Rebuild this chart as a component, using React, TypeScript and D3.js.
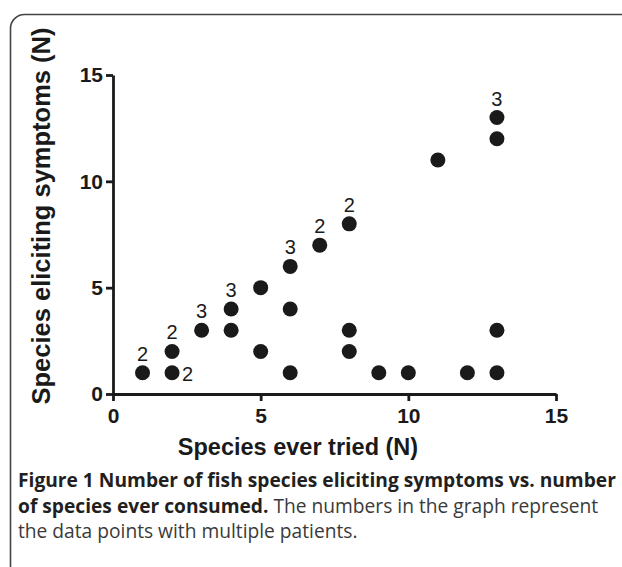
import React, { useEffect, useRef } from 'react';
import * as d3 from 'd3';

// species ever tried (x), species eliciting symptoms (y)
const triedValues = [1, 2, 2, 3, 4, 4, 5, 5, 6, 6, 6, 7, 8, 8, 8, 9, 10, 11, 12, 13, 13, 13, 13];
const symptomValues = [1, 1, 2, 3, 3, 4, 5, 2, 6, 4, 1, 7, 8, 3, 2, 1, 1, 11, 1, 13, 12, 3, 1];
// number of patients at a point ('' = one), and where its label sits
const patientCounts = ['2', '2', '2', '3', '', '3', '', '', '3', '', '', '2', '2', '', '', '', '', '', '', '3', '', '', ''];
const labelSides = ['top', 'right', 'top', 'top', '', 'top', '', '', 'top', '', '', 'top', 'top', '', '', '', '', '', '', 'top', '', '', ''];

const xTicks = [0, 5, 10, 15];
const yTicks = [0, 5, 10, 15];

const captionLines = [
  [{ t: 'Figure 1 Number of fish species eliciting symptoms vs. number', b: true }],
  [{ t: 'of species ever consumed.', b: true }, { t: ' The numbers in the graph represent', b: false }],
  [{ t: 'the data points with multiple patients.', b: false }],
];

const App = () => {
  const ref = useRef(null);

  useEffect(() => {
    document.body.style.margin = '0';
    const W = 622;
    const H = 567;
    const axisFont = '"Liberation Sans", Arial, sans-serif';
    const ink = '#1a1a1a';

    d3.select(ref.current).selectAll('*').remove();
    const svg = d3
      .select(ref.current)
      .append('svg')
      .attr('width', W)
      .attr('height', H)
      .style('display', 'block');

    svg.append('rect').attr('width', W).attr('height', H).attr('fill', '#fff');

    // figure frame (runs off the right and bottom edges)
    svg
      .append('rect')
      .attr('x', 10.5)
      .attr('y', 14.5)
      .attr('width', 640)
      .attr('height', 600)
      .attr('rx', 14)
      .attr('fill', 'none')
      .attr('stroke', '#444')
      .attr('stroke-width', 1.6);

    const x = d3.scaleLinear().domain([0, 15]).range([113, 556]);
    const y = d3.scaleLinear().domain([0, 15]).range([394, 75]);

    const xAxis = svg
      .append('g')
      .attr('transform', `translate(0,${y(0)})`)
      .call(d3.axisBottom(x).tickValues(xTicks).tickSize(7).tickPadding(7).tickSizeOuter(0));
    const yAxis = svg
      .append('g')
      .attr('transform', `translate(${x(0)},0)`)
      .call(d3.axisLeft(y).tickValues(yTicks).tickSize(7).tickPadding(3).tickSizeOuter(0));

    [xAxis, yAxis].forEach(g => {
      g.select('.domain').attr('stroke', ink).attr('stroke-width', 2.8);
      g.selectAll('.tick line').attr('stroke', ink).attr('stroke-width', 2.8);
      g.selectAll('.tick text')
        .attr('fill', ink)
        .style('font-family', axisFont)
        .style('font-weight', 'bold')
        .style('font-size', '21px');
    });

    svg
      .append('text')
      .attr('x', 298)
      .attr('y', 455)
      .attr('text-anchor', 'middle')
      .attr('fill', ink)
      .style('font-family', axisFont)
      .style('font-weight', 'bold')
      .style('font-size', '23.5px')
      .text('Species ever tried  (N)');

    svg
      .append('text')
      .attr('transform', 'translate(50,216) rotate(-90)')
      .attr('text-anchor', 'middle')
      .attr('fill', ink)
      .style('font-family', axisFont)
      .style('font-weight', 'bold')
      .style('font-size', '25.5px')
      .text('Species eliciting symptoms  (N)');

    const pts = triedValues.map((v, i) => ({
      tried: v,
      sym: symptomValues[i],
      n: patientCounts[i],
      side: labelSides[i],
    }));

    svg
      .append('g')
      .selectAll('circle')
      .data(pts)
      .enter()
      .append('circle')
      .attr('cx', d => x(d.tried))
      .attr('cy', d => y(d.sym))
      .attr('r', 7.5)
      .attr('fill', ink);

    svg
      .append('g')
      .selectAll('text')
      .data(pts.filter(d => d.n))
      .enter()
      .append('text')
      .attr('x', d => (d.side === 'right' ? x(d.tried) + 10 : x(d.tried)))
      .attr('y', d => (d.side === 'right' ? y(d.sym) + 8 : y(d.sym) - 12))
      .attr('text-anchor', d => (d.side === 'right' ? 'start' : 'middle'))
      .attr('fill', ink)
      .style('font-family', axisFont)
      .style('font-size', '20px')
      .text(d => d.n);

    const caption = svg
      .append('text')
      .style('font-family', '"Open Sans", sans-serif')
      .style('font-size', '19.2px');
    captionLines.forEach((line, i) => {
      line.forEach((part, j) => {
        const ts = caption
          .append('tspan')
          .attr('font-weight', part.b ? 'bold' : 'normal')
          .attr('fill', part.b ? '#231f20' : '#3a3a3a')
          .text(part.t);
        if (j === 0) ts.attr('x', 18).attr('y', 487 + i * 25.5);
      });
    });
  }, []);

  return <div ref={ref}></div>;
};

export default App;
